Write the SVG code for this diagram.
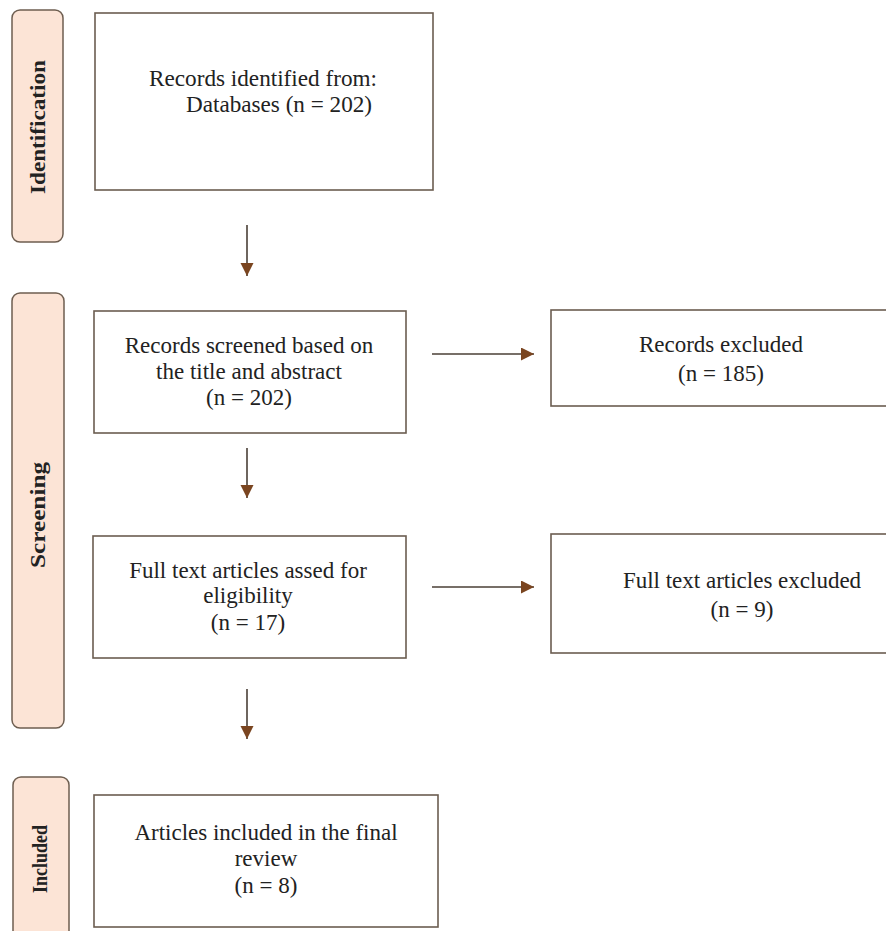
<svg xmlns="http://www.w3.org/2000/svg" width="886" height="931" viewBox="0 0 886 931">
<style>
.tab{fill:#fce4d6;stroke:#6e5e50;stroke-width:1.5}
.box{fill:#ffffff;stroke:#6b5d50;stroke-width:1.6}
.t{font-family:"Liberation Serif","Times New Roman",serif;font-size:23px;fill:#222}
.c{text-anchor:middle}
.tl{font-family:"Liberation Serif","Times New Roman",serif;font-size:22px;font-weight:bold;fill:#222;text-anchor:middle}
.conn{stroke:#4a3f36;stroke-width:1.6;fill:none;marker-end:url(#ah)}
</style>
<defs>
<marker id="ah" markerUnits="userSpaceOnUse" markerWidth="14" markerHeight="14" refX="13" refY="6.5" orient="auto">
<path d="M0,0 L13,6.5 L0,13 Z" fill="#7a4520"/>
</marker>
</defs>
<rect width="886" height="931" fill="#ffffff"/>
<g id="tab-identification">
<rect class="tab" x="12" y="10" width="51" height="232" rx="8"/>
<text class="tl" transform="translate(45,127) rotate(-90)" textLength="134" lengthAdjust="spacingAndGlyphs">Identification</text>
</g>
<g id="tab-screening">
<rect class="tab" x="12" y="293" width="52" height="435" rx="8"/>
<text class="tl" transform="translate(45,515) rotate(-90)" textLength="106" lengthAdjust="spacingAndGlyphs">Screening</text>
</g>
<g id="tab-included">
<rect class="tab" x="13" y="777" width="56" height="170" rx="8"/>
<text class="tl" style="font-size:20px" transform="translate(47,859) rotate(-90)" textLength="68" lengthAdjust="spacingAndGlyphs">Included</text>
</g>
<g id="identified">
<rect class="box" x="95" y="13" width="338" height="177"/>
<text class="t" x="149" y="86" textLength="228" lengthAdjust="spacingAndGlyphs">Records identified from:</text>
<text class="t" x="186" y="112" textLength="186" lengthAdjust="spacingAndGlyphs">Databases (n = 202)</text>
</g>
<g id="screened">
<rect class="box" x="94" y="311" width="312" height="122"/>
<text class="t c" x="249" y="353">Records screened based on</text>
<text class="t c" x="249" y="379">the title and abstract</text>
<text class="t c" x="249" y="405">(n = 202)</text>
</g>
<g id="fulltext">
<rect class="box" x="93" y="536" width="313" height="122"/>
<text class="t c" x="248" y="578">Full text articles assed for</text>
<text class="t c" x="248" y="603">eligibility</text>
<text class="t c" x="248" y="630">(n = 17)</text>
</g>
<g id="included">
<rect class="box" x="94" y="795" width="344" height="132"/>
<text class="t c" x="266" y="840">Articles included in the final</text>
<text class="t c" x="266" y="866">review</text>
<text class="t c" x="266" y="893">(n = 8)</text>
</g>
<g id="records-excluded">
<rect class="box" x="551" y="310" width="345" height="96"/>
<text class="t c" x="721" y="352">Records excluded</text>
<text class="t c" x="721" y="381">(n = 185)</text>
</g>
<g id="fulltext-excluded">
<rect class="box" x="551" y="534" width="345" height="119"/>
<text class="t c" x="742" y="588">Full text articles excluded</text>
<text class="t c" x="742" y="617">(n = 9)</text>
</g>
<g id="connectors">
<line class="conn" x1="247" y1="225" x2="247" y2="276"/>
<line class="conn" x1="247" y1="448" x2="247" y2="498"/>
<line class="conn" x1="247" y1="689" x2="247" y2="739"/>
<line class="conn" x1="432" y1="354" x2="534" y2="354"/>
<line class="conn" x1="432" y1="587" x2="534" y2="587"/>
</g>
</svg>
